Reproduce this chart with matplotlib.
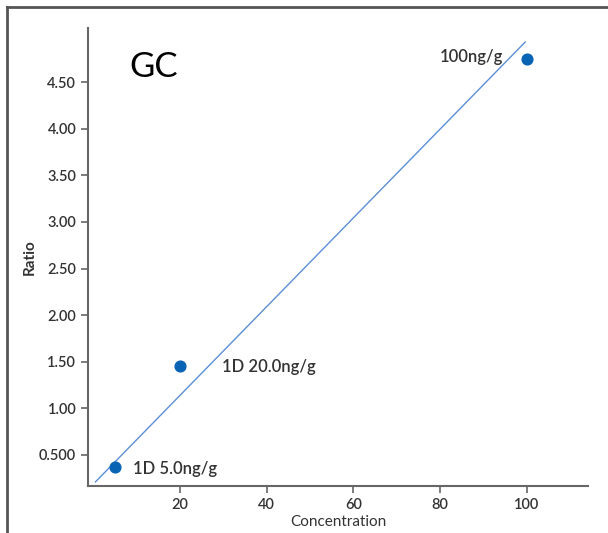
import matplotlib
matplotlib.use("Agg")
import matplotlib.pyplot as plt
from matplotlib.lines import Line2D

plt.rcParams['font.family'] = ['Lato', 'DejaVu Sans']

# data
conc = [5, 20, 100]
ratio = [0.37, 1.455, 4.75]
labels = ['1D 5.0ng/g', '1D 20.0ng/g', '100ng/g']
line_x = [0.4, 99.7]
line_y = [0.21, 4.93]
xticks = [20, 40, 60, 80, 100]
yticks = [0.5, 1.0, 1.5, 2.0, 2.5, 3.0, 3.5, 4.0, 4.5]
ytick_labels = ['0.500', '1.00', '1.50', '2.00', '2.50', '3.00', '3.50', '4.00', '4.50']

fig = plt.figure(figsize=(6.08, 5.33), dpi=100)
ax = fig.add_axes([88 / 608, 1 - 486 / 533, 500 / 608, 458 / 533])

ax.plot(line_x, line_y, color='#5b8fd6', lw=1.0)
ax.scatter(conc, ratio, s=60, color='#0a64b4', zorder=3)

# point labels
txt = dict(va='center_baseline', fontsize=12, color='#333333', fontweight='semibold',
           textcoords='offset points')
ax.annotate(labels[0], (conc[0], ratio[0]), xytext=(12.5, 0), ha='left', **txt)
ax.annotate(labels[1], (conc[1], ratio[1]), xytext=(30, 0), ha='left', **txt)
ax.annotate(labels[2], (conc[2], ratio[2]), xytext=(-17, 2), ha='right', **txt)

ax.text(0.083, 0.915, 'GC', transform=ax.transAxes, fontsize=25, color='black',
        va='center', ha='left')

ax.set_xlim(-1.3, 114.2)
ax.set_ylim(0.167, 5.08)
ax.set_xticks(xticks)
ax.set_yticks(yticks)
ax.set_yticklabels(ytick_labels)

for s in ['top', 'right']:
    ax.spines[s].set_visible(False)
for s in ['left', 'bottom']:
    ax.spines[s].set_color('#666666')
    ax.spines[s].set_linewidth(1.5)
ax.tick_params(colors='#666666', length=5, width=1.2, labelsize=10.5, labelcolor='#333333')
for lab in ax.get_xticklabels() + ax.get_yticklabels():
    lab.set_fontweight('semibold')

ax.set_xlabel('Concentration', fontsize=11, color='#333333', labelpad=2)
ax.set_ylabel('Ratio', fontsize=11, color='#333333', fontweight='bold', labelpad=2)

# outer frame
fig.add_artist(Line2D([7 / 608, 1.0], [1 - 7 / 533, 1 - 7 / 533], transform=fig.transFigure,
                      color='#555555', lw=2))
fig.add_artist(Line2D([7 / 608, 7 / 608], [0, 1 - 7 / 533], transform=fig.transFigure,
                      color='#555555', lw=2))

fig.savefig('out.png', dpi=100)
